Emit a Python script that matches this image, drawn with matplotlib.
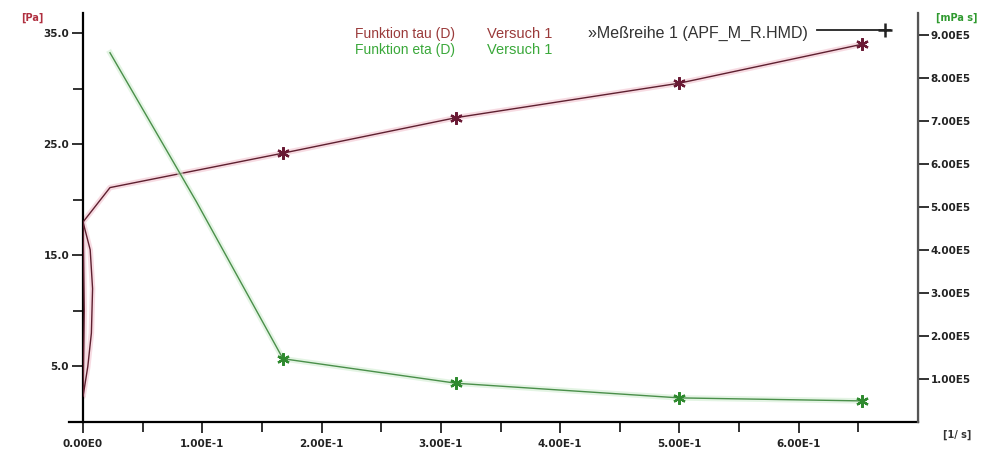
import numpy as np
import matplotlib
matplotlib.use("Agg")
import matplotlib.pyplot as plt
from matplotlib.lines import Line2D

plt.rcParams['font.family'] = ['Liberation Sans', 'DejaVu Sans']

# shear rate D [1/s] and shear stress tau [Pa] (left axis)
tau_x = [0.0, 0.001, 0.0, 0.004, 0.007, 0.008, 0.006, 0.0, 0.0226, 0.1676, 0.313, 0.500, 0.653]
tau_y = [18.0, 10.0, 2.3, 5.0, 8.0, 12.0, 15.5, 18.0, 21.1, 24.2, 27.4, 30.5, 34.0]
# viscosity eta [mPa s] (right axis)
eta_x = [0.0226, 0.095, 0.1676, 0.313, 0.500, 0.653]
eta_y = [8.58e5, 5.12e5, 1.47e5, 0.90e5, 0.56e5, 0.49e5]
# measured points
meas_x = [0.1676, 0.313, 0.500, 0.653]
meas_tau = [24.2, 27.4, 30.5, 34.0]
meas_eta = [1.47e5, 0.90e5, 0.56e5, 0.49e5]

x_ticks = [0.0, 0.1, 0.2, 0.3, 0.4, 0.5, 0.6]
x_labels = ['0.00E0', '1.00E-1', '2.00E-1', '3.00E-1', '4.00E-1', '5.00E-1', '6.00E-1']
left_ticks = [5, 15, 25, 35]
left_labels = ['5.0', '15.0', '25.0', '35.0']
right_ticks = [1e5, 2e5, 3e5, 4e5, 5e5, 6e5, 7e5, 8e5, 9e5]
right_labels = ['1.00E5', '2.00E5', '3.00E5', '4.00E5', '5.00E5', '6.00E5', '7.00E5', '8.00E5', '9.00E5']

tau_col = '#5e2030'
tau_txt = '#9a3a3a'
eta_col = '#4a8f4a'
eta_txt = '#3aa83a'
star = (6, 2, 0)

fig = plt.figure(figsize=(9.85, 4.54), dpi=100)
ax = fig.add_axes([0.0843, 0.0705, 0.8477, 0.9005])
ax2 = ax.twinx()

# tau curve with a faint pink halo
ax.plot(tau_x, tau_y, color='#f2c4d0', lw=4, alpha=0.6, zorder=2)
ax.plot(tau_x, tau_y, color=tau_col, lw=1.0, zorder=3)
ax.plot(meas_x, meas_tau, ls='none', marker=star, ms=9, mew=1.6, color='#6a1a35', zorder=4)

ax2.plot(eta_x, eta_y, color='#d2eed2', lw=4, alpha=0.6, zorder=2)
ax2.plot(eta_x, eta_y, color=eta_col, lw=1.0, zorder=3)
ax2.plot(meas_x, meas_eta, ls='none', marker=star, ms=9, mew=1.6, color='#2f8a2f', zorder=4)

ax.set_xlim(0, 0.7)
ax.set_ylim(0, 36.8)
ax2.set_ylim(0, 9.5e5)

ax.set_xticks(x_ticks)
ax.set_xticklabels(x_labels)
ax.set_xticks(np.arange(0.05, 0.7, 0.1), minor=True)
ax.set_yticks(left_ticks)
ax.set_yticklabels(left_labels)
ax.set_yticks([0, 10, 20, 30], minor=True)
ax2.set_yticks(right_ticks)
ax2.set_yticklabels(right_labels)

for a in (ax, ax2):
    a.spines['top'].set_visible(False)
    a.tick_params(which='both', direction='out', width=1.3, colors='#222222',
                  labelsize=7.5)
    a.tick_params(which='major', length=8)
    a.tick_params(which='minor', length=7)
    for lab in a.get_xticklabels() + a.get_yticklabels():
        lab.set_fontweight('bold')
        lab.set_family('DejaVu Sans')
ax.spines['left'].set_linewidth(1.6)
ax.spines['bottom'].set_linewidth(1.6)
ax.spines['bottom'].set_bounds(-0.012, 0.7)
ax2.spines['right'].set_linewidth(1.6)
ax2.spines['right'].set_color('#555555')
ax2.spines['left'].set_visible(False)
ax2.spines['bottom'].set_visible(False)
ax.tick_params(axis='y', pad=2)
ax2.tick_params(axis='y', pad=1)
ax.tick_params(axis='x', pad=4)

# unit labels
fig.text(0.021, 0.955, '[Pa]', color='#b03040', fontsize=7, fontweight='bold', family='DejaVu Sans')
fig.text(0.950, 0.955, '[mPa s]', color='#2f9a2f', fontsize=7, fontweight='bold', family='DejaVu Sans')
fig.text(0.957, 0.035, '[1/ s]', color='#333333', fontsize=7, fontweight='bold', family='DejaVu Sans')

# legend texts
fig.text(0.360, 0.917, 'Funktion tau (D)', color=tau_txt, fontsize=10)
fig.text(0.494, 0.917, 'Versuch 1', color=tau_txt, fontsize=10.5)
fig.text(0.360, 0.880, 'Funktion eta (D)', color=eta_txt, fontsize=10)
fig.text(0.494, 0.880, 'Versuch 1', color=eta_txt, fontsize=10.5)
fig.text(0.597, 0.917, '»Meßreihe 1 (APF_M_R.HMD)', color='#333333', fontsize=11.5)
fig.add_artist(Line2D([0.829, 0.904], [0.934, 0.934], color='#222222', lw=1.3))
fig.add_artist(Line2D([0.898], [0.934], marker='+', ms=10, mew=1.8, color='#222222'))

fig.savefig('out.png', dpi=100)
